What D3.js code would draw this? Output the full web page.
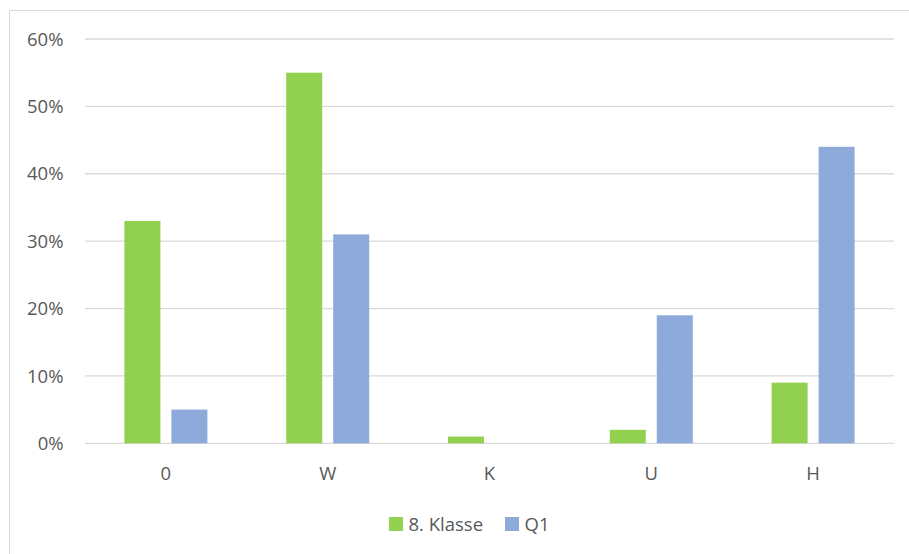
<!DOCTYPE html>
<meta charset="utf-8">
<style>
body { margin: 0; background: #fff; }
text { font-family: "Open Sans", sans-serif; fill: #595959; }
.grid line { stroke: #d9d9d9; stroke-width: 1.3; }
</style>
<svg width="909" height="554"></svg>
<script src="https://d3js.org/d3.v7.min.js"></script>
<script>

var categories = ["0", "W", "K", "U", "H"];
var seriesNames = ["8. Klasse", "Q1"];
var klasse8 = [0.33, 0.55, 0.01, 0.02, 0.09];
var q1 = [0.05, 0.31, 0.00, 0.19, 0.44];
var yTicks = [0, 0.1, 0.2, 0.3, 0.4, 0.5, 0.6];
var colors = ["#92d050", "#8eaadb"];

var svg = d3.select("svg"),
    plotLeft = 85, plotRight = 894, plotTop = 39, plotBottom = 443.3;

// chart area border (top and left only visible)
svg.append("line").attr("x1", 9.5).attr("x2", 909).attr("y1", 10.5).attr("y2", 10.5)
    .attr("stroke", "#d9d9d9");
svg.append("line").attr("x1", 9.5).attr("x2", 9.5).attr("y1", 10.5).attr("y2", 554)
    .attr("stroke", "#d9d9d9");

var y = d3.scaleLinear().domain([0, 0.6]).range([plotBottom, plotTop]);

var x0 = d3.scaleBand().domain(categories).range([plotLeft, plotRight]);

var x1 = d3.scaleBand().domain(seriesNames).range([-41.5, 41.5]).paddingInner(0.234);

var grid = svg.append("g").attr("class", "grid");
grid.selectAll("line")
  .data(yTicks)
  .enter().append("line")
    .attr("x1", plotLeft).attr("x2", plotRight)
    .attr("y1", function(d) { return y(d); })
    .attr("y2", function(d) { return y(d); });

svg.append("g")
  .selectAll("text")
  .data(yTicks)
  .enter().append("text")
    .attr("x", 63.5)
    .attr("y", function(d) { return y(d); })
    .attr("dy", "0.36em")
    .attr("text-anchor", "end")
    .style("font-size", "18.5px")
    .text(d3.format(".0%"));

var data = categories.map(function(c, i) {
  return { cat: c, values: [klasse8[i], q1[i]] };
});

var group = svg.append("g")
  .selectAll("g")
  .data(data)
  .enter().append("g")
    .attr("transform", function(d) { return "translate(" + (x0(d.cat) + x0.bandwidth() / 2) + ",0)"; });

group.selectAll("rect")
  .data(function(d) { return d.values.map(function(v, j) { return { name: seriesNames[j], v: v, j: j }; }); })
  .enter().append("rect")
    .attr("x", function(d) { return x1(d.name); })
    .attr("width", x1.bandwidth())
    .attr("y", function(d) { return y(d.v); })
    .attr("height", function(d) { return plotBottom - y(d.v); })
    .attr("fill", function(d) { return colors[d.j]; });

svg.append("g")
  .selectAll("text")
  .data(categories)
  .enter().append("text")
    .attr("x", function(d) { return x0(d) + x0.bandwidth() / 2; })
    .attr("y", 480)
    .attr("text-anchor", "middle")
    .style("font-size", "18.5px")
    .text(function(d) { return d; });

// legend
var legendX = [389, 505];
var legend = svg.append("g")
  .selectAll("g")
  .data(seriesNames)
  .enter().append("g")
    .attr("transform", function(d, i) { return "translate(" + legendX[i] + ",517)"; });

legend.append("rect")
    .attr("width", 14).attr("height", 14)
    .attr("fill", function(d, i) { return colors[i]; });

legend.append("text")
    .attr("x", 19.5)
    .attr("y", 14)
    .style("font-size", "18.5px")
    .text(function(d) { return d; });

</script>
